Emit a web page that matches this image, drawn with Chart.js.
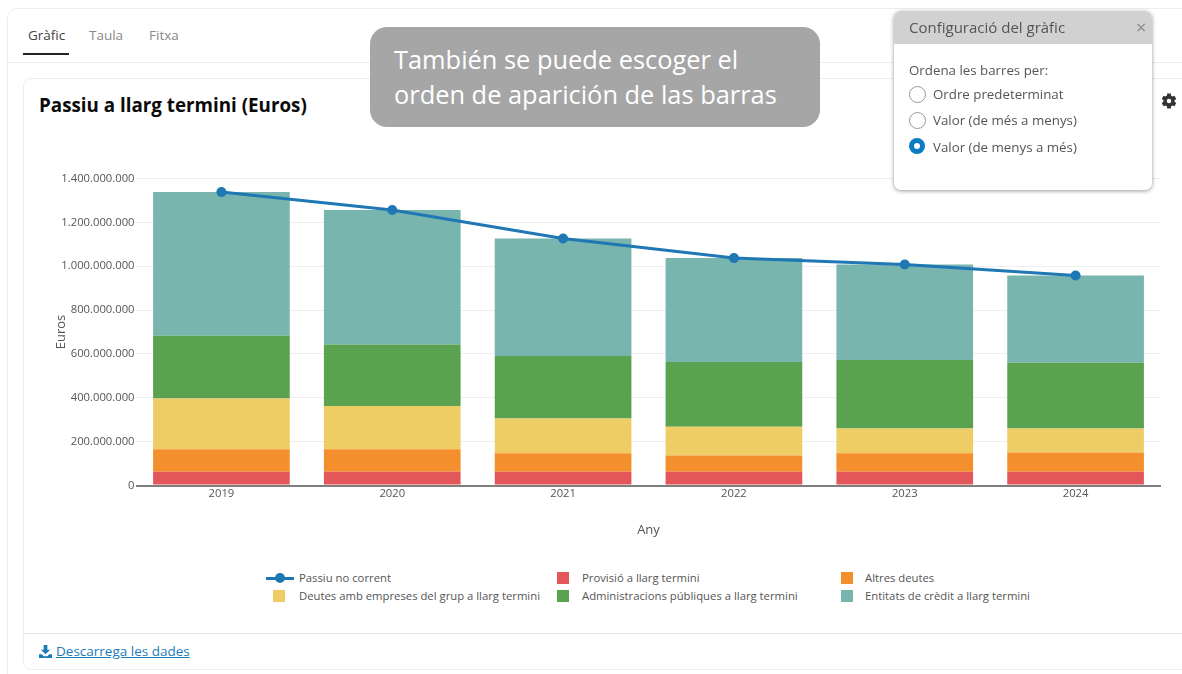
<!DOCTYPE html>
<html lang="ca"><head><meta charset="utf-8">
<script src="https://cdn.jsdelivr.net/npm/chart.js@4"></script>
<style>
html,body{margin:0;padding:0;background:#fff;width:1182px;height:674px;overflow:hidden;font-family:"Open Sans",sans-serif;color:#4a4a4a}
.abs{position:absolute;white-space:nowrap}
#outer{left:7px;top:8px;width:1300px;height:700px;border:1px solid #eee;border-radius:10px;box-sizing:border-box}
#sep{left:7px;top:62px;width:1175px;height:1px;background:#eee}
#card{left:23px;top:78px;width:1300px;height:592px;border:1px solid #eee;border-radius:8px;box-sizing:border-box}
#sep2{left:24px;top:633px;width:1158px;height:1px;background:#e8e8e8}
.tab{top:25.5px;font-size:13.5px;line-height:18px;color:#8a8a8a}
#ul{left:23px;top:53px;width:46px;height:2px;background:#222}
#title{left:39px;top:93px;font-size:18.8px;line-height:25px;font-weight:700;color:#0a0a0a}
canvas{position:absolute;left:24px;top:130px}
.lg{font-size:11.3px;line-height:15px;color:#555}
.sw{width:12px;height:12px}
#note{left:370px;top:27px;width:450px;height:100px;border-radius:17px;background:#a6a6a6;color:#fff;font-size:25.4px;line-height:35px;box-sizing:border-box;padding:15px 0 0 24px;white-space:pre-line}
#pop{left:894px;top:11px;width:258px;height:179px;background:#fff;border-radius:7px;box-shadow:0 1px 4px rgba(0,0,0,.4)}
#pophead{left:0;top:0;width:258px;height:33px;background:#d1d1d1;border-radius:7px 7px 0 0}
.pt{font-size:13.3px;line-height:18px;color:#555}
.radio{width:15px;height:15px;border:1.5px solid #9a9a9a;border-radius:50%;box-sizing:content-box;background:#fff}
#arrow{left:1148px;top:94px;width:10px;height:10px;background:#fff;transform:rotate(45deg)}
#dl{left:56px;top:642px;font-size:13.5px;line-height:19px;color:#1c7cb8;text-decoration:underline}
</style></head><body>
<div class="abs" id="outer"></div><div class="abs" id="sep"></div><div class="abs" id="card"></div><div class="abs" id="sep2"></div>
<div class="abs tab" style="left:28px;color:#444">Gràfic</div>
<div class="abs tab" style="left:89px">Taula</div>
<div class="abs tab" style="left:149px">Fitxa</div>
<div class="abs" id="ul"></div>
<div class="abs" id="title">Passiu a llarg termini (Euros)</div>
<canvas id="c" width="1158" height="420"></canvas>
<div id="legend"></div>
<svg class="abs" style="left:39px;top:645px" width="13" height="13" viewBox="0 0 14 14"><path d="M5 0h4v5h3l-5 5-5-5h3z" fill="#1c7cb8"/><path d="M0 10h3l2 2h4l2-2h3v4H0z" fill="#1c7cb8"/></svg>
<div class="abs" id="dl">Descarrega les dades</div>
<svg class="abs" style="left:1159.5px;top:91.5px" width="18" height="18" viewBox="0 0 24 24"><path fill="#333" d="M19.4 13a7.5 7.5 0 0 0 0-2l2.3-1.8-2.4-4.2-2.8 1.1a7.6 7.6 0 0 0-1.7-1L14.4 2H9.6l-.4 3.1a7.6 7.6 0 0 0-1.7 1L4.700 5 2.300 9.200 4.600 11a7.500 7.500 0 0 0 0 2l-2.300 1.800 2.400 4.200 2.800-1.100a7.600 7.600 0 0 0 1.700 1l.4 3.100h4.800l.4-3.100a7.600 7.600 0 0 0 1.700-1l2.800 1.100 2.400-4.200zM12 15a3 3 0 1 1 0-6 3 3 0 0 1 0 6z"/></svg>
<div class="abs" id="arrow"></div>
<div class="abs" id="pop">
 <div class="abs" id="pophead"></div>
 <div class="abs" style="left:15px;top:4.5px;font-size:15px;line-height:22px;color:#555">Configuració del gràfic</div>
 <div class="abs" style="left:242px;top:5px;font-size:18px;line-height:22px;color:#8a8a8a">×</div>
 <div class="abs pt" style="left:15px;top:50px">Ordena les barres per:</div>
 <div class="abs radio" style="left:15px;top:75px"></div><div class="abs pt" style="left:39px;top:74px">Ordre predeterminat</div>
 <div class="abs radio" style="left:15px;top:101px"></div><div class="abs pt" style="left:39px;top:100px">Valor (de més a menys)</div>
 <div class="abs radio" style="left:15px;top:127px;width:6px;height:6px;border:5px solid #0a7cc4;background:#fff"></div><div class="abs pt" style="left:39px;top:126.5px">Valor (de menys a més)</div>
</div>
<div class="abs" id="note">También se puede escoger el
orden de aparición de las barras</div>
<script>
const years = ['2019','2020','2021','2022','2023','2024'];
const passiuNoCorrent = [1338,1256,1126,1037,1008,958].map(v=>v*1e6);
const provisio = [63,63,63,63,63,63].map(v=>v*1e6);
const altresDeutes = [102,102,84,74,84,87].map(v=>v*1e6);
const deutesGrup = [232,197,158,131,113,110].map(v=>v*1e6);
const administracions = [286,281,285,295,312,300].map(v=>v*1e6);
const entitatsCredit = [655,613,536,474,436,398].map(v=>v*1e6);
const yTicks = [0,200e6,400e6,600e6,800e6,1000e6,1200e6,1400e6];
const C = {line:'#1f77b4',red:'#e3575b',orange:'#f48f2d',yellow:'#efcd65',green:'#5aa250',teal:'#78b5af'};
const bars = [
 ['Provisió a llarg termini',provisio,C.red],
 ['Altres deutes',altresDeutes,C.orange],
 ['Deutes amb empreses del grup a llarg termini',deutesGrup,C.yellow],
 ['Administracions públiques a llarg termini',administracions,C.green],
 ['Entitats de crèdit a llarg termini',entitatsCredit,C.teal]
];
const tick = {family:'"Open Sans"',size:11.25};
const fmt = v => String(v).replace(/\B(?=(\d{3})+$)/g,'.');
new Chart(document.getElementById('c'),{
 type:'bar',
 data:{labels:years,datasets:[
  {type:'line',label:'Passiu no corrent',data:passiuNoCorrent,borderColor:C.line,backgroundColor:C.line,borderWidth:3,pointRadius:5,pointBorderWidth:0,pointHoverRadius:5,tension:0,order:0,stack:'l'},
  ...bars.map(([label,data,color],i)=>({label,data,backgroundColor:color,borderWidth:0,barPercentage:.8,categoryPercentage:1,order:i+1,stack:'b'}))
 ]},
 options:{responsive:false,animation:false,
  layout:{padding:{left:29,right:21,top:48.5,bottom:11.5}},
  plugins:{legend:{display:false},tooltip:{enabled:false},title:{display:false}},
  scales:{
   x:{stacked:true,grid:{display:false,drawTicks:false},border:{display:false},
      ticks:{color:'#555',font:tick,padding:2,maxRotation:0},
      title:{display:true,text:'Any',color:'#555',font:{family:'"Open Sans"',size:13},padding:{top:17,bottom:0}},
      afterFit(s){s.height=53}},
   y:{stacked:true,min:0,max:1.4e9,
      afterBuildTicks(s){s.ticks=yTicks.map(value=>({value}))},
      grid:{color:c=>c.tick&&c.tick.value===0?'#7f7f7f':'#eeeeee',lineWidth:c=>c.tick&&c.tick.value===0?2:1,drawTicks:false},
      border:{display:false},
      ticks:{color:'#555',font:tick,padding:1.5,callback:fmt},
      title:{display:true,text:'Euros',color:'#555',font:{family:'"Open Sans"',size:13},padding:{top:0,bottom:0}},
      afterFit(s){s.width=83}}
  }}
});
const lgItems = [['Passiu no corrent',C.line,266,299,578],[bars[0][0],bars[0][2],557,582,578],[bars[1][0],bars[1][2],841,865,578],
 [bars[2][0],bars[2][2],273,299,596],[bars[3][0],bars[3][2],557,582,596],[bars[4][0],bars[4][2],841,865,596]];
document.getElementById('legend').innerHTML = lgItems.map(([t,col,sx,tx,y],i)=> (i===0
 ? `<div class="abs" style="left:${sx}px;top:${y-1.5}px;width:28px;height:3px;background:${col}"></div><div class="abs" style="left:${sx+9}px;top:${y-5}px;width:10px;height:10px;border-radius:50%;background:${col}"></div>`
 : `<div class="abs sw" style="left:${sx}px;top:${y-6}px;background:${col}"></div>`)
 + `<div class="abs lg" style="left:${tx}px;top:${y-8}px">${t}</div>`).join('');
</script>
</body></html>
